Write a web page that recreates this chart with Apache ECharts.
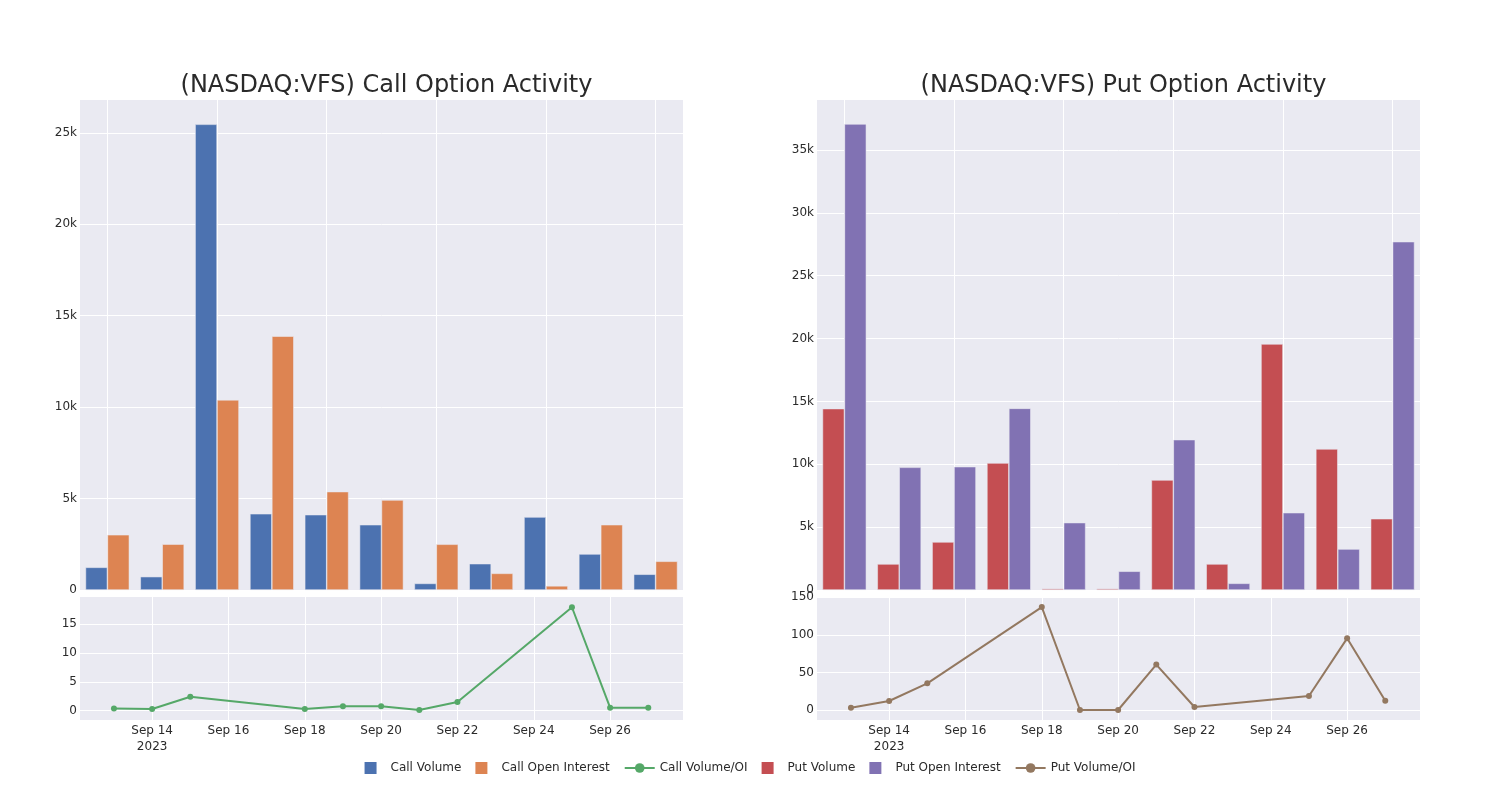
<!DOCTYPE html>
<html>
<head>
<meta charset="utf-8">
<script src="https://cdn.jsdelivr.net/npm/echarts@6/dist/echarts.min.js"></script>
<style>html,body{margin:0;padding:0;background:#fff}#c{width:1500px;height:800px}</style>
</head>
<body>
<div id="c"></div>
<script>
const dates = ['2023-09-13','2023-09-14','2023-09-15','2023-09-18','2023-09-19','2023-09-20','2023-09-21','2023-09-22','2023-09-25','2023-09-26','2023-09-27'];
const callVolume = [1240, 730, 25470, 4170, 4120, 3570, 360, 1440, 3990, 1970, 860];
const callOpenInterest = [3020, 2510, 10400, 13880, 5380, 4920, 2500, 910, 225, 3570, 1570];
const callRatio = [0.4, 0.29, 2.42, 0.29, 0.75, 0.75, 0.12, 1.5, 17.9, 0.52, 0.52];
const putVolume = [14430, 2070, 3820, 10100, 110, 110, 8750, 2070, 19570, 11220, 5670];
const putOpenInterest = [37070, 9760, 9810, 14450, 5360, 1490, 11960, 530, 6150, 3260, 27710];
const putRatio = [3.1, 12, 35.5, 137, 0, 0, 60.4, 4, 18.6, 95.4, 12.4];
const callBarTicks = [0, 5000, 10000, 15000, 20000, 25000];
const putBarTicks = [0, 5000, 10000, 15000, 20000, 25000, 30000, 35000];
const callLineTicks = [0, 5, 10, 15];
const putLineTicks = [0, 50, 100, 150];
const dateTicks = ['2023-09-14','2023-09-16','2023-09-18','2023-09-20','2023-09-22','2023-09-24','2023-09-26'];
const titles = ['(NASDAQ:VFS) Call Option Activity', '(NASDAQ:VFS) Put Option Activity'];

const FONT = '"DejaVu Sans", sans-serif';
const TXT = '#2a2a2a';
const BG = '#eaeaf2';
const DAY = 86400000;
const MONTHS = ['Jan','Feb','Mar','Apr','May','Jun','Jul','Aug','Sep','Oct','Nov','Dec'];
const ts = s => new Date(s + 'T00:00:00Z').getTime();
const dateTickTs = dateTicks.map(ts);

const kFmt = v => v === 0 ? '0' : (v / 1000) + 'k';
const dateFmt = v => {
  const d = new Date(v);
  let s = MONTHS[d.getUTCMonth()] + ' ' + d.getUTCDate();
  if (v === dateTickTs[0]) s += '\n' + d.getUTCFullYear();
  return s;
};

const grids = [
  {left: 80, top: 100, width: 603, height: 490},
  {left: 80, top: 597, width: 603, height: 123},
  {left: 817, top: 100, width: 603, height: 490},
  {left: 817, top: 597, width: 603, height: 123}
].map(g => Object.assign({backgroundColor: BG, show: true, borderWidth: 0, containLabel: false}, g));

const axisLabelBase = {color: TXT, fontFamily: FONT, fontSize: 12};
const split = {show: true, lineStyle: {color: '#ffffff', width: 1}};

function barX(gi) {
  return {
    type: 'category', gridIndex: gi, data: dates, boundaryGap: true,
    axisLine: {show: false}, axisTick: {show: false}, axisLabel: {show: false},
    splitLine: {show: true, interval: 1, alignWithLabel: true, lineStyle: {color: '#ffffff', width: 1}}
  };
}
function dateX(gi) {
  return {
    type: 'value', gridIndex: gi, scale: true,
    min: ts('2023-09-12') + 0.11 * DAY, max: ts('2023-09-27') + 0.91 * DAY,
    axisLine: {show: false},
    axisTick: {show: false, customValues: dateTickTs},
    axisLabel: Object.assign({customValues: dateTickTs, formatter: dateFmt, margin: 3, lineHeight: 16}, axisLabelBase),
    splitLine: split
  };
}
function valY(gi, min, max, ticks, fmt) {
  return {
    type: 'value', gridIndex: gi, min: min, max: max,
    axisLine: {show: false},
    axisTick: {show: false, customValues: ticks},
    axisLabel: Object.assign({customValues: ticks, formatter: fmt, margin: 3}, axisLabelBase),
    splitLine: split
  };
}

const barBorder = {borderColor: 'rgba(234,234,242,0.9)', borderWidth: 0.6};
function bar(name, data, color, xi) {
  return {name: name, type: 'bar', xAxisIndex: xi, yAxisIndex: xi, data: data,
    barGap: '0%', barCategoryGap: '20%',
    itemStyle: Object.assign({color: color}, barBorder)};
}
function line(name, vals, color, xi) {
  return {name: name, type: 'line', xAxisIndex: xi, yAxisIndex: xi,
    data: dates.map((d, i) => [ts(d), vals[i]]),
    symbol: 'circle', symbolSize: 6, showSymbol: true,
    lineStyle: {color: color, width: 2}, itemStyle: {color: color}};
}

const sq = 'path://M0,0H10V10H0Z';
const noBorder = {borderWidth: 0};
const option = {
  animation: false,
  backgroundColor: '#ffffff',
  title: [
    {text: titles[0], left: 381.5, top: 69, textAlign: 'center', textStyle: {fontFamily: FONT, fontSize: 24, fontWeight: 'normal', color: TXT}},
    {text: titles[1], left: 1118.5, top: 69, textAlign: 'center', textStyle: {fontFamily: FONT, fontSize: 24, fontWeight: 'normal', color: TXT}}
  ],
  legend: {
    left: 'center', top: 757, itemWidth: 30, itemHeight: 12, itemGap: 14,
    textStyle: {fontFamily: FONT, fontSize: 12, color: TXT},
    data: [
      {name: 'Call Volume', icon: sq, itemStyle: noBorder},
      {name: 'Call Open Interest', icon: sq, itemStyle: noBorder},
      {name: 'Call Volume/OI', itemStyle: noBorder},
      {name: 'Put Volume', icon: sq, itemStyle: noBorder},
      {name: 'Put Open Interest', icon: sq, itemStyle: noBorder},
      {name: 'Put Volume/OI', itemStyle: noBorder}
    ]
  },
  grid: grids,
  xAxis: [barX(0), dateX(1), barX(2), dateX(3)],
  yAxis: [
    valY(0, 0, 26800, callBarTicks, kFmt),
    valY(1, -1.61, 19.67, callLineTicks, v => String(v)),
    valY(2, 0, 38980, putBarTicks, kFmt),
    valY(3, -13.3, 150.4, putLineTicks, v => String(v))
  ],
  series: [
    bar('Call Volume', callVolume, '#4c72b0', 0),
    bar('Call Open Interest', callOpenInterest, '#dd8452', 0),
    line('Call Volume/OI', callRatio, '#55a868', 1),
    bar('Put Volume', putVolume, '#c44e52', 2),
    bar('Put Open Interest', putOpenInterest, '#8172b3', 2),
    line('Put Volume/OI', putRatio, '#937860', 3)
  ]
};
const chart = echarts.init(document.getElementById('c'), null, {renderer: 'canvas'});
chart.setOption(option);
</script>
</body>
</html>
